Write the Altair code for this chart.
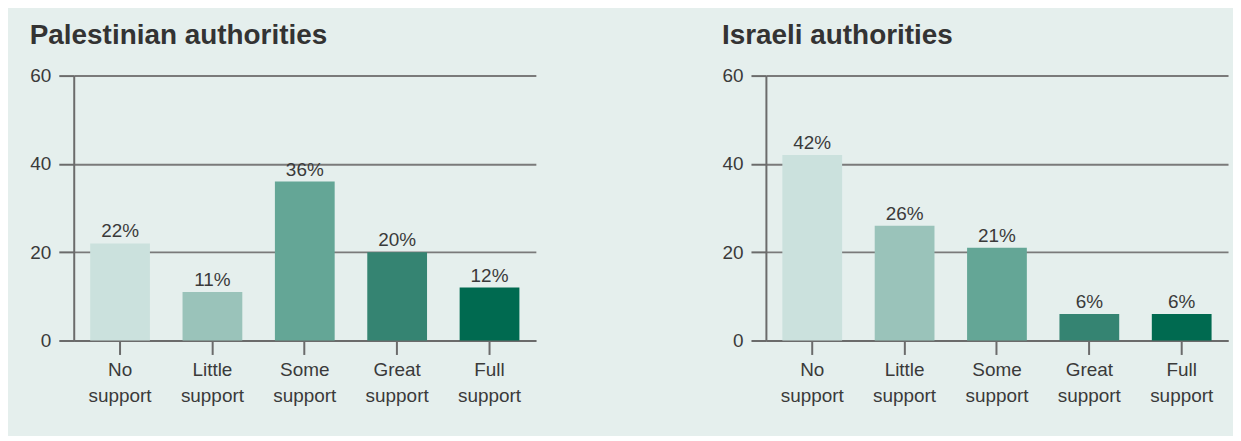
import altair as alt
import pandas as pd

categories = ["No support", "Little support", "Some support", "Great support", "Full support"]
palestinian_values = [22, 11, 36, 20, 12]
israeli_values = [42, 26, 21, 6, 6]
bar_colors = ["#cbe1dd", "#9ac3ba", "#64a696", "#358472", "#006a50"]
y_ticks = [0, 20, 40, 60]
titles = ["Palestinian authorities", "Israeli authorities"]

FONT = "Liberation Sans, Arial, sans-serif"
BG = "#e5efed"


def panel(title, values):
    df = pd.DataFrame({"category": categories, "value": values})
    base = alt.Chart(df).encode(
        x=alt.X(
            "category:N",
            sort=categories,
            scale=alt.Scale(paddingInner=0.353, paddingOuter=0.178),
            axis=alt.Axis(
                title=None,
                labelAngle=0,
                labelExpr="split(datum.label, ' ')",
                labelFontSize=19,
                labelFont=FONT,
                labelColor="#3a3a3a",
                labelLineHeight=26,
                labelPadding=6,
                tickSize=14,
                tickWidth=2,
                tickColor="#6b6b6b",
                domainColor="#6b6b6b",
                domainWidth=2,
                grid=False,
            ),
        ),
        y=alt.Y(
            "value:Q",
            scale=alt.Scale(domain=[0, 60], nice=False),
            axis=alt.Axis(
                title=None,
                values=y_ticks,
                labelFontSize=19,
                labelFont=FONT,
                labelColor="#3a3a3a",
                labelPadding=8,
                tickSize=15,
                tickWidth=2,
                tickColor="#6b6b6b",
                domainColor="#6b6b6b",
                domainWidth=2,
                grid=True,
                gridColor="#7a7a7a",
                gridWidth=2,
            ),
        ),
    )
    bars = base.mark_bar().encode(
        color=alt.Color(
            "category:N",
            sort=categories,
            scale=alt.Scale(domain=categories, range=bar_colors),
            legend=None,
        )
    )
    text = base.transform_calculate(label="datum.value + '%'").mark_text(
        dy=-6, baseline="alphabetic", fontSize=19, font=FONT, color="#3a3a3a"
    ).encode(text="label:N")
    return alt.layer(bars, text).properties(
        width=464,
        height=266,
        title=alt.TitleParams(
            title,
            anchor="start",
            frame="bounds",
            baseline="alphabetic",
            offset=-5,
            fontSize=28,
            font=FONT,
            fontWeight="bold",
            color="#333333",
        ),
    )


chart = alt.hconcat(
    panel(titles[0], palestinian_values),
    panel(titles[1], israeli_values),
    spacing=186,
).properties(
    background=BG,
    padding={"left": 21, "top": 13, "right": 5, "bottom": 30},
).configure_view(stroke=None)

chart.save("out.html", embed_options={"renderer": "svg", "actions": False})
